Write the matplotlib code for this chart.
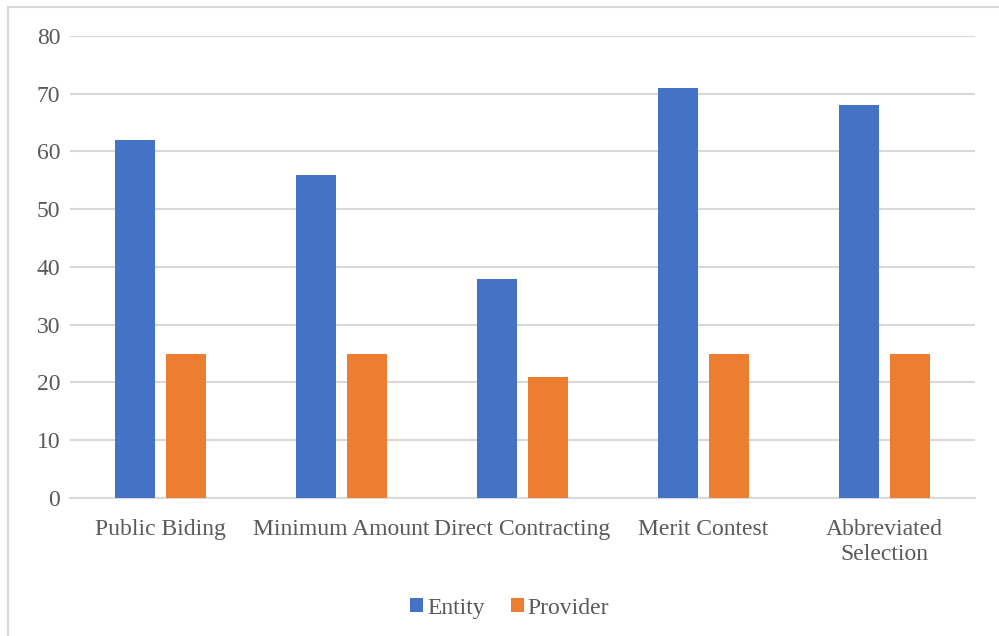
import matplotlib.pyplot as plt
import numpy as np
from matplotlib.patches import Rectangle

categories = ['Public Biding', 'Minimum Amount', 'Direct Contracting',
              'Merit Contest', 'Abbreviated\nSelection']
entity = [62, 56, 38, 71, 68]
provider = [25, 25, 21, 25, 25]
y_ticks = [0, 10, 20, 30, 40, 50, 60, 70, 80]

plt.rcParams['font.family'] = ['Liberation Serif', 'DejaVu Serif']
text_color = '#595959'
grid_color = '#D9D9D9'

fig = plt.figure(figsize=(9.99, 6.36), dpi=100)
ax = fig.add_axes([0.0701, 0.217, 0.906, 0.7264])

# chart frame
fig.patches.append(Rectangle((8 / 999, -0.1), 1.2, 1 - 7 / 636 + 0.1,
                             transform=fig.transFigure, fill=False,
                             edgecolor=grid_color, linewidth=1.5))

x = np.arange(len(categories))
w = 0.22
ax.bar(x - 0.141, entity, w, color='#4472C4', label='Entity', zorder=3)
ax.bar(x + 0.141, provider, w, color='#ED7D31', label='Provider', zorder=3)

ax.set_xlim(-0.5, len(categories) - 0.5)
ax.set_ylim(0, 80)
ax.set_yticks(y_ticks)
ax.yaxis.grid(True, color=grid_color, linewidth=1.5, zorder=0)
ax.set_xticks(x)
ax.set_xticklabels(categories, linespacing=1.25)
ax.tick_params(axis='both', length=0, colors=text_color, labelsize=17)
ax.tick_params(axis='x', pad=15)
ax.tick_params(axis='y', pad=7)
for side in ['top', 'right', 'left']:
    ax.spines[side].set_visible(False)
ax.spines['bottom'].set_color(grid_color)
ax.spines['bottom'].set_linewidth(1.5)

leg = fig.legend(loc='center', bbox_to_anchor=(0.51, 0.044), ncol=2,
                 frameon=False, fontsize=17, handlelength=0.55,
                 handleheight=0.55, handletextpad=0.15, columnspacing=1.1)
for t in leg.get_texts():
    t.set_color(text_color)

fig.savefig('out.png', dpi=100)
